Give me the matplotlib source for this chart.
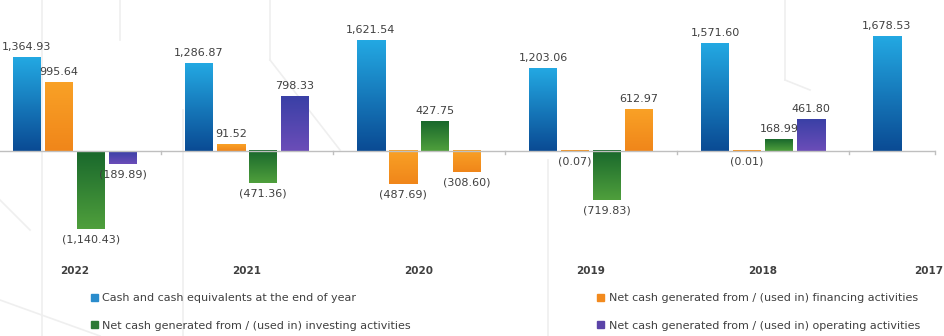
import numpy as np
import matplotlib
matplotlib.use("Agg")
import matplotlib.pyplot as plt
import matplotlib.transforms as mtrans
from matplotlib.colors import LinearSegmentedColormap
from matplotlib.lines import Line2D

years = ["2022", "2021", "2020", "2019", "2018", "2017"]
cash_end = [1364.93, 1286.87, 1621.54, 1203.06, 1571.60, 1678.53]
financing = [995.64, 91.52, -487.69, -0.07, -0.01, np.nan]
investing = [-1140.43, -471.36, 427.75, -719.83, 168.99, np.nan]
operating = [-189.89, 798.33, -308.60, 612.97, 461.80, np.nan]
series_names = [
    "Cash and cash equivalents at the end of year",
    "Net cash generated from / (used in) financing activities",
    "Net cash generated from / (used in) investing activities",
    "Net cash generated from / (used in) operating activities",
]

W, H = 945, 336
fig = plt.figure(figsize=(W / 100, H / 100), dpi=100)
fig.patch.set_facecolor("white")

# faint decorative background lines
deco = dict(color="#efefef", lw=1.2, zorder=0)
for xs, ys in [([42, 42], [336, 0]), ([120, 120], [0, 40]), ([183, 183], [336, 110]),
               ([270, 270], [0, 60]), ([270, 340], [60, 150]), ([548, 548], [160, 336]),
               ([785, 785], [0, 80]), ([785, 810], [80, 90]), ([0, 30], [200, 230]),
               ([0, 100], [300, 336])]:
    fig.add_artist(Line2D(np.array(xs) / W, 1 - np.array(ys) / H, transform=fig.transFigure, **deco))

ax_left_px, ax_right_px = 0, 936
ax_top_px, ax_bot_px = 0, 245
ax = fig.add_axes([ax_left_px / W, 1 - ax_bot_px / H, (ax_right_px - ax_left_px) / W,
                   (ax_bot_px - ax_top_px) / H])
ax.set_facecolor("none")
for s in ax.spines.values():
    s.set_visible(False)

pitch = 172.0
center0 = 75.0
xlo = (ax_left_px - center0) / pitch
xhi = (ax_right_px - center0) / pitch
zero_px = 151.0
scale = 0.0683  # px per unit
ytop = (zero_px - ax_top_px) / scale
ybot = -(ax_bot_px - zero_px) / scale

x = np.arange(len(years))
bw = 28 / pitch
step = 32 / pitch
offsets = np.array([-1.5, -0.5, 0.5, 1.5]) * step

grads = {
    "blue": ("#23a8e2", "#0a4b94"),
    "orange": ("#f9a126", "#f0861a"),
    "green": ("#19682c", "#4f9f3c"),
    "purple": ("#3a40a6", "#6b4db8"),
}
legend_colors = ["#2a8ccc", "#f28a1e", "#2d7a35", "#5b44a8"]
series_colors = ["blue", "orange", "green", "purple"]
# per-point colour overrides seen in the reference
overrides = {(3, 2): "orange", (3, 3): "orange"}

all_vals = [cash_end, financing, investing, operating]
txt_color = "#404040"
for si, vals in enumerate(all_vals):
    for ci, v in enumerate(vals):
        if np.isnan(v):
            continue
        cname = overrides.get((si, ci), series_colors[si])
        c_top, c_bot = grads[cname]
        bars = ax.bar(x[ci] + offsets[si], v, width=bw, color=c_bot, zorder=2, linewidth=0)
        rect = bars[0]
        x0, w = rect.get_x(), rect.get_width()
        y0, h = rect.get_y(), rect.get_height()
        cmap = LinearSegmentedColormap.from_list("g", [c_top, c_bot])
        grad = np.linspace(0, 1, 64).reshape(-1, 1)
        ax.imshow(grad, cmap=cmap, extent=(x0, x0 + w, min(y0, y0 + h), max(y0, y0 + h)),
                  aspect="auto", origin="upper", zorder=3, clip_path=rect, interpolation="bilinear")
        label = f"{v:,.2f}" if v >= 0 else f"({-v:,.2f})"
        if v >= 0:
            ax.annotate(label, (x0 + w / 2, v), xytext=(0, 4), textcoords="offset points",
                        ha="center", va="bottom", fontsize=8, color=txt_color, zorder=5)
        else:
            ax.annotate(label, (x0 + w / 2, v), xytext=(0, -4), textcoords="offset points",
                        ha="center", va="top", fontsize=8, color=txt_color, zorder=5)

ax.axhline(0, color="#bfbfbf", lw=1.0, zorder=4)
ax.set_xlim(xlo, xhi)
ax.set_ylim(ybot, ytop)
ax.set_yticks([])
ax.set_xticks([])
# small category boundary ticks
for b in list(np.arange(0.5, 5.0, 1.0)) + [xhi - 0.003]:
    ax.plot([b, b], [0, -3.5 / scale], color="#bfbfbf", lw=1.0, zorder=4, clip_on=False)

# category labels
trans = mtrans.blended_transform_factory(ax.transData, fig.transFigure)
for ci, yr in enumerate(years):
    if ci == len(years) - 1:
        ax.text(943 / W, 1 - 271 / H, yr, transform=fig.transFigure, ha="right", va="center",
                fontsize=7.5, fontweight="bold", color=txt_color)
    else:
        ax.text(x[ci], 1 - 271 / H, yr, transform=trans, ha="center", va="center",
                fontsize=7.5, fontweight="bold", color=txt_color, clip_on=False)

handles = [plt.Rectangle((0, 0), 1, 1, color=legend_colors[i]) for i in range(4)]
order = [0, 2, 1, 3]
leg = fig.legend([handles[i] for i in order], [series_names[i] for i in order],
                 ncol=2, loc="center left", bbox_to_anchor=(91 / W, 1 - 312 / H),
                 frameon=False, fontsize=8, handlelength=0.6, handleheight=0.6,
                 handletextpad=0.4, labelspacing=1.55, columnspacing=16.8,
                 labelcolor=txt_color, borderaxespad=0, borderpad=0)

fig.savefig("out.png", dpi=100, facecolor="white")
